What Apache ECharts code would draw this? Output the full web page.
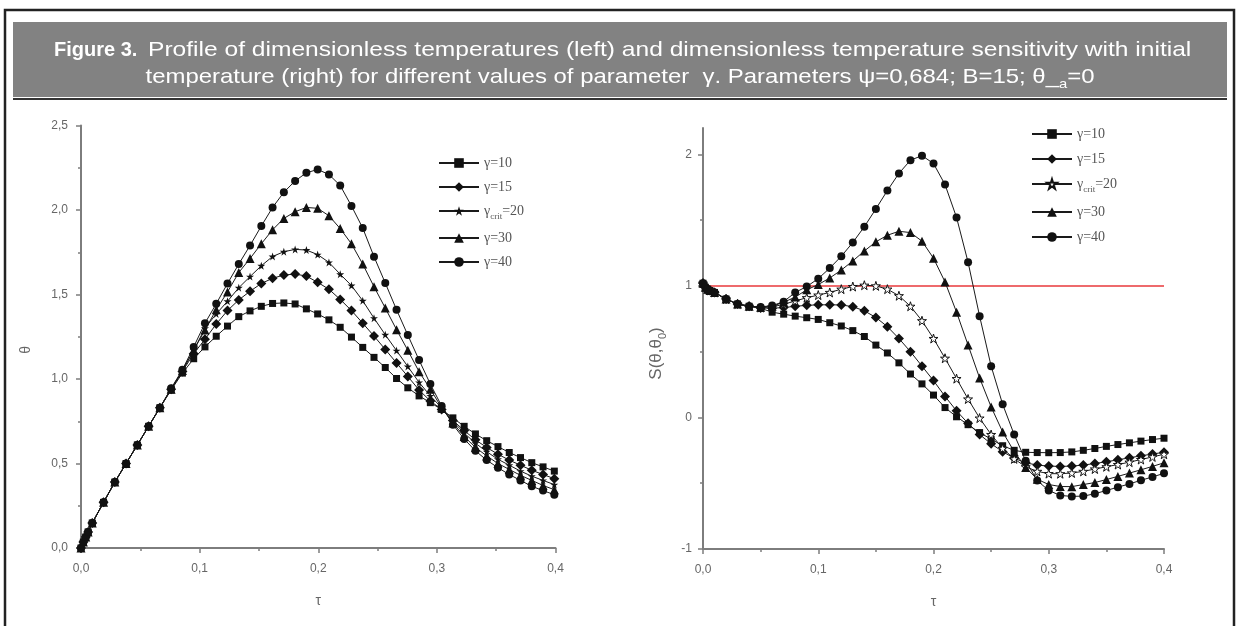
<!DOCTYPE html>
<html>
<head>
<meta charset="utf-8">
<script src="https://cdn.jsdelivr.net/npm/echarts@6/dist/echarts.min.js"></script>
<style>
html,body{margin:0;padding:0;background:#fff;}
#chart{width:1239px;height:626px;}
</style>
</head>
<body>
<div id="chart"></div>
<script>
// ---------- DATA ----------
const tauLeft = [0,0.002,0.004,0.006,0.0095,0.019,0.0285,0.038,0.0475,0.057,0.0665,0.076,0.0855,0.095,0.1045,0.114,0.1235,0.133,0.1425,0.152,0.1615,0.171,0.1805,0.19,0.1995,0.209,0.2185,0.228,0.2375,0.247,0.2565,0.266,0.2755,0.285,0.2945,0.304,0.3135,0.323,0.3325,0.342,0.3515,0.361,0.3705,0.38,0.3895,0.399];
const thetaG10 = [0,0.035,0.065,0.095,0.148,0.27,0.39,0.50,0.61,0.72,0.83,0.935,1.035,1.12,1.19,1.253,1.313,1.369,1.403,1.43,1.447,1.45,1.444,1.415,1.385,1.35,1.306,1.248,1.187,1.128,1.068,1.003,0.948,0.90,0.86,0.82,0.77,0.72,0.675,0.635,0.60,0.565,0.535,0.505,0.48,0.455];
const thetaG15 = [0,0.035,0.065,0.095,0.148,0.27,0.39,0.50,0.61,0.72,0.83,0.94,1.045,1.15,1.235,1.325,1.405,1.468,1.519,1.565,1.596,1.615,1.621,1.609,1.572,1.531,1.471,1.405,1.33,1.254,1.175,1.095,1.015,0.935,0.87,0.82,0.755,0.695,0.64,0.595,0.555,0.52,0.49,0.46,0.435,0.41];
const thetaG20 = [0,0.035,0.065,0.095,0.148,0.27,0.39,0.50,0.61,0.72,0.83,0.94,1.05,1.17,1.30,1.385,1.46,1.54,1.606,1.67,1.725,1.753,1.767,1.763,1.736,1.69,1.62,1.553,1.463,1.36,1.262,1.168,1.074,0.98,0.9,0.83,0.75,0.68,0.62,0.57,0.525,0.49,0.455,0.425,0.40,0.375];
const thetaG30 = [0,0.035,0.065,0.095,0.148,0.27,0.39,0.50,0.61,0.72,0.83,0.94,1.05,1.17,1.29,1.41,1.515,1.63,1.713,1.80,1.883,1.95,1.99,2.015,2.01,1.966,1.89,1.80,1.68,1.546,1.42,1.292,1.17,1.043,0.94,0.83,0.74,0.66,0.595,0.545,0.50,0.465,0.43,0.40,0.37,0.345];
const thetaG40 = [0,0.035,0.065,0.095,0.148,0.27,0.39,0.50,0.61,0.72,0.83,0.945,1.055,1.19,1.33,1.445,1.565,1.68,1.79,1.905,2.015,2.105,2.172,2.22,2.24,2.21,2.145,2.024,1.893,1.724,1.568,1.41,1.26,1.112,0.97,0.84,0.73,0.645,0.575,0.52,0.475,0.435,0.40,0.365,0.34,0.315];

const tauRight = [0,0.002,0.004,0.006,0.01,0.02,0.03,0.04,0.05,0.06,0.07,0.08,0.09,0.10,0.11,0.12,0.13,0.14,0.15,0.16,0.17,0.18,0.19,0.20,0.21,0.22,0.23,0.24,0.25,0.26,0.27,0.28,0.29,0.30,0.31,0.32,0.33,0.34,0.35,0.36,0.37,0.38,0.39,0.40];
const sensG10 = [1.02,0.99,0.975,0.965,0.95,0.90,0.862,0.845,0.83,0.80,0.785,0.77,0.758,0.745,0.72,0.695,0.66,0.615,0.55,0.49,0.415,0.33,0.255,0.17,0.075,0.005,-0.055,-0.115,-0.165,-0.215,-0.25,-0.265,-0.267,-0.268,-0.267,-0.262,-0.25,-0.236,-0.22,-0.206,-0.193,-0.18,-0.168,-0.158];
const sensG15 = [1.02,0.99,0.975,0.965,0.95,0.90,0.862,0.845,0.832,0.83,0.835,0.845,0.852,0.856,0.856,0.855,0.842,0.81,0.76,0.69,0.60,0.50,0.39,0.28,0.16,0.05,-0.045,-0.13,-0.20,-0.26,-0.31,-0.345,-0.362,-0.37,-0.372,-0.37,-0.362,-0.35,-0.337,-0.322,-0.307,-0.292,-0.278,-0.265];
const sensG20 = [1.02,0.99,0.975,0.965,0.95,0.90,0.862,0.845,0.835,0.84,0.86,0.885,0.91,0.93,0.95,0.975,0.995,1.005,1.0,0.975,0.925,0.845,0.735,0.60,0.45,0.295,0.14,-0.005,-0.13,-0.235,-0.315,-0.375,-0.41,-0.427,-0.428,-0.422,-0.41,-0.392,-0.375,-0.358,-0.34,-0.32,-0.30,-0.28];
const sensG30 = [1.02,0.99,0.975,0.965,0.95,0.90,0.862,0.845,0.838,0.845,0.875,0.915,0.97,1.01,1.06,1.12,1.19,1.265,1.335,1.385,1.415,1.405,1.34,1.21,1.03,0.80,0.55,0.30,0.08,-0.11,-0.26,-0.38,-0.47,-0.51,-0.525,-0.526,-0.51,-0.495,-0.472,-0.448,-0.423,-0.398,-0.372,-0.345];
const sensG40 = [1.02,0.99,0.975,0.965,0.95,0.90,0.862,0.845,0.84,0.85,0.88,0.95,0.995,1.055,1.135,1.225,1.33,1.45,1.585,1.725,1.855,1.955,1.99,1.93,1.77,1.52,1.18,0.77,0.39,0.10,-0.13,-0.33,-0.48,-0.555,-0.593,-0.60,-0.598,-0.58,-0.555,-0.53,-0.505,-0.478,-0.452,-0.425];
const refLevel = 1;

const xTicks = [0, 0.4, 0.1];       // min, max, interval
const leftYTicks = [0, 2.5, 0.5];
const rightYTicks = [-1, 0, 1, 2];
const rightYMinor = [-0.5, 0.5, 1.5];

const legendLabels = {
  g10: '{g|γ=10}', g15: '{g|γ=15}', g20: '{g|γ}{sub|crit}{g|=20}', g30: '{g|γ=30}', g40: '{g|γ=40}'
};
const headerBold = 'Figure 3.';
const headerLine1 = 'Profile of dimensionless temperatures (left) and dimensionless temperature sensitivity with initial';
const headerLine2 = '{r|temperature (right) for different values of parameter  γ. Parameters ψ=0,684; B=15; θ_}{s|a}{r|=0}';

// ---------- CHART ----------
const zip = (xs, ys) => xs.map((x, i) => [x, ys[i]]);
const STAR = 'path://M0,-10L2.245,-3.09L9.51,-3.09L3.633,1.18L5.88,8.09L0,3.82L-5.88,8.09L-3.633,1.18L-9.51,-3.09L-2.245,-3.09Z';
const comma = v => (Math.round(v * 10) / 10).toFixed(1).replace('.', ',');
const LINE = '#1a1a1a';
const AX = '#7d7d7d';

function mkSeries(name, xs, ys, gi, symbol, size, hollow) {
  return {
    name, type: 'line', xAxisIndex: gi, yAxisIndex: gi,
    data: zip(xs, ys), symbol, symbolSize: size, showSymbol: true,
    lineStyle: { color: LINE, width: 1 },
    itemStyle: hollow ? { color: '#fff', borderColor: '#111', borderWidth: 1 } : { color: '#111', borderWidth: 0 },
    animation: false, z: 3
  };
}

const axisCommon = {
  axisLine: { show: true, onZero: false, lineStyle: { color: AX, width: 2 } },
  axisTick: { show: true, length: 5, lineStyle: { color: AX, width: 1.5 } },
  minorTick: { show: true, splitNumber: 2, length: 3, lineStyle: { color: AX, width: 1.5 } },
  splitLine: { show: false },
  axisLabel: { color: '#666', fontFamily: 'Liberation Sans', fontSize: 12, margin: 15 },
  nameTextStyle: { color: '#666', fontFamily: 'Liberation Sans', fontSize: 14 }
};

const legendRich = {
  g: { fontFamily: 'Liberation Serif', fontSize: 14, color: '#555', lineHeight: 14 },
  sub: { fontFamily: 'Liberation Serif', fontSize: 9, color: '#555', verticalAlign: 'bottom', lineHeight: 20 }
};

const chart = echarts.init(document.getElementById('chart'), null, { renderer: 'canvas' });
chart.setOption({
  animation: false,
  backgroundColor: '#fff',
  graphic: [
    { type: 'rect', shape: { x: 5, y: 10, width: 1229, height: 650 }, style: { fill: 'none', stroke: '#222', lineWidth: 2.5 }, silent: true },
    { type: 'rect', shape: { x: 13, y: 22, width: 1214, height: 75 }, style: { fill: '#828282' }, silent: true },
    { type: 'rect', shape: { x: 13, y: 98, width: 1214, height: 2 }, style: { fill: '#333' }, silent: true },
    { type: 'text', x: 54, y: 50, silent: true, style: { text: headerBold, align: 'left', verticalAlign: 'middle',
      fontFamily: 'Liberation Sans', fontWeight: 'bold', fontSize: 20, fill: '#fff' } },
    { type: 'text', x: 148, y: 50, scaleX: 1.17, silent: true, style: { text: headerLine1, align: 'left', verticalAlign: 'middle',
      fontFamily: 'Liberation Sans', fontSize: 21, fill: '#fff' } },
    { type: 'text', x: 620, y: 77, scaleX: 1.14, silent: true, style: { text: headerLine2, align: 'center', verticalAlign: 'middle',
      rich: { r: { fontFamily: 'Liberation Sans', fontSize: 21, fill: '#fff', lineHeight: 22 },
              s: { fontFamily: 'Liberation Sans', fontSize: 13, fill: '#fff', verticalAlign: 'bottom', lineHeight: 28 } } } }
  ],
  grid: [
    { left: 81, top: 125.5, width: 474.5, height: 422.5 },
    { left: 703, top: 128, width: 461, height: 421 }
  ],
  xAxis: [
    Object.assign({}, axisCommon, { type: 'value', gridIndex: 0, min: xTicks[0], max: xTicks[1], interval: xTicks[2],
      name: 'τ', nameLocation: 'middle', nameGap: 46,
      axisLabel: Object.assign({}, axisCommon.axisLabel, { formatter: comma }) }),
    Object.assign({}, axisCommon, { type: 'value', gridIndex: 1, min: xTicks[0], max: xTicks[1], interval: xTicks[2],
      name: 'τ', nameLocation: 'middle', nameGap: 46,
      axisLabel: Object.assign({}, axisCommon.axisLabel, { formatter: comma }) })
  ],
  yAxis: [
    Object.assign({}, axisCommon, { type: 'value', gridIndex: 0, min: leftYTicks[0], max: leftYTicks[1], interval: leftYTicks[2],
      name: 'θ', nameLocation: 'middle', nameGap: 48,
      nameTextStyle: { color: '#666', fontFamily: 'Liberation Sans', fontSize: 14, padding: [0, 26, 0, 0] },
      axisLabel: Object.assign({}, axisCommon.axisLabel, { formatter: comma, margin: 13 }) }),
    Object.assign({}, axisCommon, { type: 'value', gridIndex: 1, min: -1, max: 2.2, interval: 1, position: 'left',
      name: '{m|S(θ,θ}{s|0}{m|)}', nameLocation: 'middle', nameGap: 35,
      nameTextStyle: { padding: [0, 30, 0, 0], rich: { m: { color: '#666', fontFamily: 'Liberation Sans', fontSize: 17, lineHeight: 18 },
                               s: { color: '#666', fontFamily: 'Liberation Sans', fontSize: 11, verticalAlign: 'bottom', lineHeight: 24 } } },
      minorTick: { show: false },
      axisTick: Object.assign({}, axisCommon.axisTick, { customValues: rightYTicks }),
      axisLabel: Object.assign({}, axisCommon.axisLabel, { customValues: rightYTicks, margin: 11, formatter: v => String(Math.round(v)) }) }),
    { type: 'value', gridIndex: 1, min: -1, max: 2.2, position: 'left', offset: 0,
      axisLine: { show: false }, splitLine: { show: false }, axisLabel: { show: false },
      axisTick: { show: true, length: 3, customValues: rightYMinor, lineStyle: { color: AX, width: 1.5 } } }
  ],
  legend: [
    { left: 433, top: 151, orient: 'vertical', itemWidth: 40, itemHeight: 12, itemGap: 10,
      data: ['L10', 'L15', 'L20', 'L30', 'L40'],
      formatter: n => legendLabels['g' + n.slice(1)],
      textStyle: { rich: legendRich }, selectedMode: false },
    { left: 1026, top: 122, orient: 'vertical', itemWidth: 40, itemHeight: 12, itemGap: 11,
      data: ['R10', 'R15', 'R20', 'R30', 'R40'],
      formatter: n => legendLabels['g' + n.slice(1)],
      textStyle: { rich: legendRich }, selectedMode: false }
  ],
  series: [
    mkSeries('L10', tauLeft, thetaG10, 0, 'rect', 7),
    mkSeries('L15', tauLeft, thetaG15, 0, 'diamond', 10),
    mkSeries('L20', tauLeft, thetaG20, 0, STAR, 8),
    mkSeries('L30', tauLeft, thetaG30, 0, 'triangle', 9),
    mkSeries('L40', tauLeft, thetaG40, 0, 'circle', 8),
    mkSeries('R10', tauRight, sensG10, 1, 'rect', 7),
    mkSeries('R15', tauRight, sensG15, 1, 'diamond', 10),
    mkSeries('R20', tauRight, sensG20, 1, STAR, 9, true),
    mkSeries('R30', tauRight, sensG30, 1, 'triangle', 9),
    mkSeries('R40', tauRight, sensG40, 1, 'circle', 8),
    { name: 'ref', type: 'line', xAxisIndex: 1, yAxisIndex: 1, data: [[xTicks[0], refLevel], [xTicks[1], refLevel]],
      symbol: 'none', lineStyle: { color: '#e8393b', width: 1.5 }, z: 2, silent: true }
  ]
});
</script>
</body>
</html>
